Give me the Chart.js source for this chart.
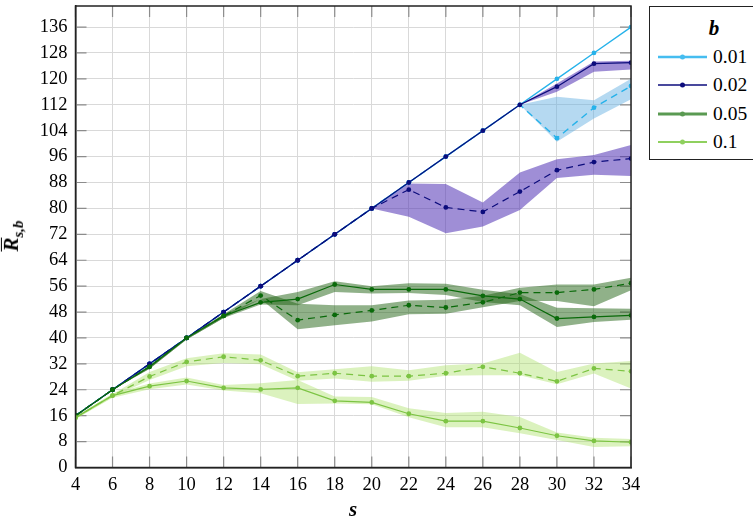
<!DOCTYPE html>
<html lang="en">
<head>
    <meta charset="UTF-8">
    <title>R s,b vs s</title>
    <script src="https://cdn.jsdelivr.net/npm/chart.js"></script>
    <style>
        body { margin: 0; background: #fff; font-family: "Liberation Serif", "DejaVu Serif", serif; }
        #wrap { position: relative; width: 753px; height: 519px; }
        #yTitle { position: absolute; left: 13px; top: 236px; transform: translate(-50%, -50%) rotate(-90deg);
                  font-weight: bold; font-style: italic; font-size: 21px; white-space: nowrap; }
        #yTitle .bar { display: inline-block; border-top: 1.5px solid #000; line-height: 0.8; padding-top: 1px; }
        #yTitle sub { font-size: 15px; }
        #xTitle { position: absolute; left: 353px; top: 509px; transform: translate(-50%, -50%);
                  font-weight: bold; font-style: italic; font-size: 21px; }
        #legend { position: absolute; left: 649px; top: 6px; width: 110px; height: 154px;
                  border: 1.5px solid #222; box-sizing: border-box; background: #fff; }
        #legend .title { position: absolute; left: 64px; top: 21px; transform: translate(-50%, -50%);
                  font-weight: bold; font-style: italic; font-size: 21px; }
        #legend .item { position: absolute; left: 8px; height: 20px; }
        #legend .item svg { position: absolute; left: 0; top: 0; }
        #legend .item span { position: absolute; left: 55px; top: 50%; transform: translateY(-50%); font-size: 19.5px; }
    </style>
</head>
<body>
<div id="wrap">
    <canvas id="chart" width="753" height="519"></canvas>
    <div id="yTitle"><span class="bar">R</span><sub>s,b</sub></div>
    <div id="xTitle">s</div>
    <div id="legend"><div class="title">b</div></div>
</div>
<script>
    // x values (s)
    const sValues = [4, 6, 8, 10, 12, 14, 16, 18, 20, 22, 24, 26, 28, 30, 32, 34];

    // b = 0.01
    const b001Solid    = [16, 24, 32, 40, 48, 56, 64, 72, 80, 88, 96, 104, 112, 120, 128, 136];
    const b001Dashed   = [16, 24, 32, 40, 48, 56, 64, 72, 80, 88, 96, 104, 112, 101.7, 111.1, 117.8];
    const b001DashedLo = [16, 24, 32, 40, 48, 56, 64, 72, 80, 88, 96, 104, 112, 100.6, 107.8, 113.7];
    const b001DashedHi = [16, 24, 32, 40, 48, 56, 64, 72, 80, 88, 96, 104, 112, 114.5, 113.4, 120];

    // b = 0.02
    const b002Solid    = [16, 24, 32, 40, 48, 56, 64, 72, 80, 88, 96, 104, 112, 117.6, 124.7, 125];
    const b002SolidLo  = [16, 24, 32, 40, 48, 56, 64, 72, 80, 88, 96, 104, 112, 116, 122.2, 122.9];
    const b002SolidHi  = [16, 24, 32, 40, 48, 56, 64, 72, 80, 88, 96, 104, 112, 118.6, 125.4, 125.6];
    const b002Dashed   = [16, 24, 32, 40, 48, 56, 64, 72, 80, 85.8, 80.3, 78.9, 85.2, 91.8, 94.3, 95.4];
    const b002DashedLo = [16, 24, 32, 40, 48, 56, 64, 72, 80, 77.4, 72.3, 74.4, 79.5, 89.4, 90.4, 90];
    const b002DashedHi = [16, 24, 32, 40, 48, 56, 64, 72, 80, 87.7, 87.5, 81.8, 91.1, 95.2, 96.5, 99.6];

    // b = 0.05
    const b005Solid    = [16, 24, 31.1, 40, 46.8, 51.0, 52.0, 56.5, 55.0, 55.0, 55.0, 53.0, 52.0, 46.0, 46.5, 47.0];
    const b005SolidLo  = [16, 24, 30.5, 39.5, 46.2, 50.3, 50.1, 54.2, 53.7, 53.9, 53.3, 51.1, 50.1, 43.4, 44.9, 45.6];
    const b005SolidHi  = [16, 24, 31.6, 40.2, 47.3, 52.0, 54.2, 57.5, 56.0, 56.9, 56.7, 54.9, 53.5, 49.3, 49.2, 49.0];
    const b005Dashed   = [16, 24, 31.1, 40, 46.8, 53.1, 45.5, 47.1, 48.5, 50.1, 49.4, 51.0, 54.0, 54.0, 55.0, 56.9];
    const b005DashedLo = [16, 24, 30.5, 39.5, 46.2, 52.0, 42.7, 43.9, 45.1, 47.3, 47.5, 49.5, 51.4, 51.4, 49.8, 54.7];
    const b005DashedHi = [16, 24, 31.6, 40.2, 47.3, 54.5, 50.6, 50.1, 50.1, 51.6, 51.8, 53.0, 55.5, 56.5, 56.5, 58.6];

    // b = 0.1
    const b01Solid     = [15.4, 22.2, 25.1, 26.7, 24.6, 24.1, 24.6, 20.6, 20.1, 16.6, 14.3, 14.3, 12.2, 9.8, 8.2, 7.8];
    const b01SolidLo   = [15.0, 21.5, 24.2, 25.6, 23.8, 22.9, 19.6, 19.8, 19.5, 15.5, 12.4, 12.4, 10.6, 8.5, 6.3, 6.6];
    const b01SolidHi   = [15.8, 22.8, 25.9, 27.8, 25.5, 26.0, 27.0, 21.9, 21.8, 18.3, 16.8, 17.2, 15.6, 10.8, 9.2, 8.8];
    const b01Dashed    = [15.4, 22.2, 28.1, 32.6, 34.2, 33.1, 28.2, 29.1, 28.2, 28.2, 29.1, 31.1, 29.1, 26.6, 30.6, 29.7];
    const b01DashedLo  = [15.0, 21.8, 27.0, 31.3, 32.3, 31.9, 26.8, 27.5, 26.5, 26.8, 28.3, 28.5, 28.5, 25.7, 29.0, 24.4];
    const b01DashedHi  = [15.8, 22.6, 29.5, 33.7, 35.3, 34.9, 29.4, 30.3, 31.3, 30.0, 31.6, 32.1, 35.4, 29.5, 32.1, 32.9];

    const legendLabels = ["0.01", "0.02", "0.05", "0.1"];
    const yTickStep = 8;
    const serif = "'Liberation Serif', 'DejaVu Serif', serif";

    const pts = arr => sValues.map((s, i) => ({ x: s, y: arr[i] }));

    function line(data, color, dashed, order, width) {
        return {
            data: pts(data), borderColor: color, backgroundColor: color,
            borderWidth: width || 1.2, borderDash: dashed ? [7, 5] : [],
            pointRadius: 2.4, pointBorderWidth: 0, pointHoverRadius: 0,
            fill: false, tension: 0, order: order
        };
    }
    function band(lo, hi, color) {
        return [
            { data: pts(hi), borderWidth: 0, pointRadius: 0, backgroundColor: color, fill: '+1', order: 20 },
            { data: pts(lo), borderWidth: 0, pointRadius: 0, backgroundColor: color, fill: false, order: 20 }
        ];
    }

    const cLightBlue = "#26b2ea", cNavy = "#0c0c7c", cGreen = "#0a6a0a", cLightGreen = "#7cc443";

    const datasets = [
        ...band(b001DashedLo, b001DashedHi, "rgba(100,175,225,0.48)"),
        ...band(b002SolidLo, b002SolidHi, "rgba(80,50,180,0.55)"),
        ...band(b002DashedLo, b002DashedHi, "rgba(80,50,180,0.55)"),
        ...band(b005SolidLo, b005SolidHi, "rgba(34,100,20,0.5)"),
        ...band(b005DashedLo, b005DashedHi, "rgba(34,100,20,0.5)"),
        ...band(b01SolidLo, b01SolidHi, "rgba(170,225,100,0.42)"),
        ...band(b01DashedLo, b01DashedHi, "rgba(170,225,100,0.42)"),
        line(b001Solid, cLightBlue, false, 6, 1.4),
        line(b001Dashed, cLightBlue, true, 5, 1.4),
        line(b002Solid, cNavy, false, 4),
        line(b002Dashed, cNavy, true, 3),
        line(b005Solid, cGreen, false, 2),
        line(b005Dashed, cGreen, true, 2),
        line(b01Solid, cLightGreen, false, 1),
        line(b01Dashed, cLightGreen, true, 1)
    ];

    // pgfplots style frame + inward ticks
    const framePlugin = {
        id: "frame",
        beforeDatasetsDraw(chart) {
            const { ctx, chartArea: a, scales } = chart;
            ctx.save();
            ctx.strokeStyle = "#8c8c8c";
            ctx.lineWidth = 1.2;
            ctx.beginPath();
            scales.x.ticks.forEach(t => {
                const px = scales.x.getPixelForValue(t.value);
                ctx.moveTo(px, a.bottom); ctx.lineTo(px, a.bottom - 11);
                ctx.moveTo(px, a.top); ctx.lineTo(px, a.top + 11);
            });
            scales.y.ticks.forEach(t => {
                const py = scales.y.getPixelForValue(t.value);
                ctx.moveTo(a.left, py); ctx.lineTo(a.left + 11, py);
                ctx.moveTo(a.right, py); ctx.lineTo(a.right - 11, py);
            });
            ctx.stroke();
            ctx.restore();
        },
        afterDraw(chart) {
            const { ctx, chartArea: a } = chart;
            ctx.save();
            ctx.strokeStyle = "#222";
            ctx.lineWidth = 1.5;
            ctx.strokeRect(a.left, a.top, a.right - a.left, a.bottom - a.top);
            ctx.restore();
        }
    };

    new Chart(document.getElementById("chart"), {
        type: "line",
        data: { datasets },
        plugins: [framePlugin],
        options: {
            responsive: false,
            animation: false,
            layout: { padding: { top: 6, right: 122, left: 0, bottom: 0 } },
            plugins: { legend: { display: false }, tooltip: { enabled: false } },
            scales: {
                x: {
                    type: "linear", min: 4, max: 34,
                    afterFit: s => { s.height = 51.5; s.paddingLeft = 0; s.paddingRight = 0; },
                    ticks: { stepSize: 2, autoSkip: false, maxRotation: 0, color: "#000", padding: 7,
                             font: { family: serif, size: 18.5 } },
                    grid: { color: "#d9d9d9", drawTicks: false },
                    border: { color: "#222", width: 1.5 }
                },
                y: {
                    min: 0, max: 142.5,
                    afterFit: s => { s.width = 75.5; s.paddingTop = 0; s.paddingBottom = 0; },
                    afterBuildTicks: s => { s.ticks = s.ticks.filter(t => t.value % yTickStep === 0); },
                    ticks: { stepSize: yTickStep, includeBounds: false, autoSkip: false, color: "#000", padding: 8,
                             font: { family: serif, size: 18.5 } },
                    grid: { color: "#d9d9d9", drawTicks: false },
                    border: { color: "#222", width: 1.5 }
                }
            }
        }
    });

    // legend
    const legendStyles = [
        { color: "#45bdf0", width: 2.5 },
        { color: cNavy, width: 1.5 },
        { color: "#5a9a52", width: 3 },
        { color: "#8fd05e", width: 2 }
    ];
    const legendEl = document.getElementById("legend");
    const legendYs = [50, 78, 107, 135];
    legendLabels.forEach((lab, i) => {
        const st = legendStyles[i];
        const item = document.createElement("div");
        item.className = "item";
        item.style.top = (legendYs[i] - 10) + "px";
        item.innerHTML =
            '<svg width="50" height="20"><line x1="0" y1="10" x2="49" y2="10" stroke="' + st.color +
            '" stroke-width="' + st.width + '"/><circle cx="24.5" cy="10" r="2.5" fill="' + st.color + '"/></svg>' +
            '<span>' + lab + '</span>';
        legendEl.appendChild(item);
    });
</script>
</body>
</html>
